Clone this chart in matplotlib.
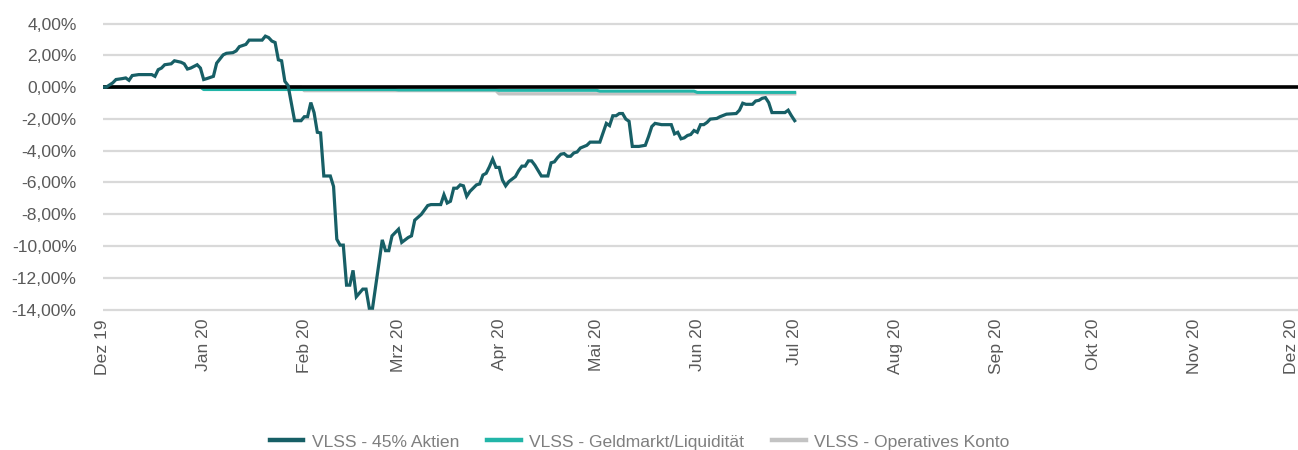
import numpy as np
import matplotlib
matplotlib.use("Agg")
import matplotlib.pyplot as plt
import matplotlib.dates as mdates
from matplotlib.ticker import FuncFormatter, FixedLocator

plt.rcParams["font.family"] = ["Liberation Sans", "DejaVu Sans"]

# ─────────────────────────────────────────────
# DATA  (days since 2019-12-01, performance in %)
# ─────────────────────────────────────────────
START = np.datetime64("2019-12-01")

aktien_days = [
    0, 1, 3, 4, 6, 7, 8, 9, 11, 15, 16, 17, 18, 19, 21, 22, 24, 25, 26, 27,
    29, 30, 31, 32, 34, 35, 37, 38, 40, 41, 42, 44, 45, 49, 50, 51, 52, 53,
    54, 55, 56, 57, 59, 61, 62, 63, 64, 65, 66, 67, 68, 70, 71, 72, 73, 74,
    75, 76, 77, 78, 80, 81, 82, 83, 86, 87, 88, 89, 91, 92, 94, 95, 96, 98,
    100, 101, 104, 105, 106, 107, 108, 109, 110, 111, 112, 113, 115, 116,
    117, 118, 119, 120, 121, 122, 123, 124, 125, 127, 128, 129, 130, 131,
    132, 133, 135, 137, 138, 139, 140, 141, 142, 143, 144, 145, 146, 147,
    149, 150, 153, 155, 156, 157, 158, 159, 160, 161, 162, 163, 165, 167,
    168, 169, 170, 172, 175, 176, 177, 178, 179, 180, 181, 182, 183, 184,
    185, 186, 187, 189, 190, 192, 195, 196, 197, 198, 200, 201, 202, 203,
    204, 205, 206, 210, 211, 212, 213,
]
aktien_vals = [
    0.00, 0.00, 0.27, 0.48, 0.54, 0.58, 0.43, 0.73, 0.79, 0.79, 0.68, 1.10,
    1.20, 1.41, 1.47, 1.66, 1.57, 1.47, 1.14, 1.20, 1.41, 1.20, 0.48, 0.54,
    0.68, 1.51, 2.03, 2.13, 2.17, 2.28, 2.55, 2.69, 2.96, 2.96, 3.21, 3.12,
    2.90, 2.81, 1.72, 1.66, 0.37, 0.10, -2.11, -2.11, -1.86, -1.86, -0.97,
    -1.60, -2.84, -2.88, -5.59, -5.59, -6.25, -9.57, -9.94, -9.94, -12.46,
    -12.46, -11.53, -13.19, -12.71, -12.71, -13.91, -13.91, -9.61, -10.29,
    -10.29, -9.36, -8.94, -9.77, -9.46, -9.36, -8.37, -8.01, -7.45, -7.39,
    -7.39, -6.77, -7.29, -7.18, -6.36, -6.36, -6.15, -6.21, -6.87, -6.56,
    -6.15, -6.09, -5.53, -5.42, -5.01, -4.53, -5.05, -5.05, -5.84, -6.21,
    -5.94, -5.63, -5.26, -4.97, -4.97, -4.64, -4.64, -4.91, -5.59, -5.59,
    -4.76, -4.70, -4.43, -4.22, -4.18, -4.35, -4.35, -4.14, -4.08, -3.83,
    -3.66, -3.46, -3.46, -2.28, -2.42, -1.80, -1.80, -1.66, -1.66, -2.01,
    -2.15, -3.73, -3.73, -3.66, -3.11, -2.48, -2.28, -2.36, -2.36, -2.94,
    -2.84, -3.25, -3.19, -3.04, -2.98, -2.73, -2.84, -2.36, -2.36, -2.22,
    -2.01, -1.97, -1.86, -1.70, -1.66, -1.45, -1.01, -1.08, -1.08, -0.87,
    -0.83, -0.70, -0.66, -0.97, -1.60, -1.60, -1.45, -1.80, -2.11,
]

geld_days = [0, 30, 31, 90, 91, 121, 122, 152, 153, 182, 183, 213]
geld_vals = [0.00, 0.00, -0.15, -0.15, -0.17, -0.17, -0.20, -0.20, -0.25, -0.25, -0.33, -0.33]

konto_days = [0, 61, 62, 121, 122, 213]
konto_vals = [0.00, 0.00, -0.22, -0.22, -0.42, -0.42]

month_labels = ["Dez 19", "Jan 20", "Feb 20", "Mrz 20", "Apr 20", "Mai 20", "Jun 20",
                "Jul 20", "Aug 20", "Sep 20", "Okt 20", "Nov 20", "Dez 20"]
month_starts = ["2019-12-01", "2020-01-01", "2020-02-01", "2020-03-01", "2020-04-01",
                "2020-05-01", "2020-06-01", "2020-07-01", "2020-08-01", "2020-09-01",
                "2020-10-01", "2020-11-01", "2020-12-01"]

y_ticks = [4, 2, 0, -2, -4, -6, -8, -10, -12, -14]

# ─────────────────────────────────────────────
# COLOURS
# ─────────────────────────────────────────────
C_AKTIEN = "#175f66"
C_GELD   = "#22b5a8"
C_KONTO  = "#c3c3c3"
C_GRID   = "#d9d9d9"
C_TEXT   = "#595959"


def to_dates(days):
    return START + np.array(days, dtype="timedelta64[D]")


fig = plt.figure(figsize=(12.98, 4.5), dpi=100)
ax = fig.add_axes([103 / 1298, 1 - 312 / 450, 1 - 103 / 1298, 290 / 450])

# gridlines
for v in y_ticks:
    if v != 0:
        ax.axhline(v, color=C_GRID, lw=1.6, zorder=0.5)

ax.plot(to_dates(konto_days), konto_vals, color=C_KONTO, lw=2.4, zorder=1.5,
        label="VLSS - Operatives Konto")
ax.plot(to_dates(geld_days), geld_vals, color=C_GELD, lw=2.2, zorder=1.6,
        label="VLSS - Geldmarkt/Liquidität")
ax.axhline(0, color="black", lw=2.6, zorder=2)
ax.plot(to_dates(aktien_days), aktien_vals, color=C_AKTIEN, lw=2.3, zorder=3,
        label="VLSS - 45% Aktien", solid_joinstyle="miter")

ax.set_xlim(START, START + np.timedelta64(368, "D"))
ax.set_ylim(-14.15, 4.1)

ax.xaxis.set_major_locator(FixedLocator(mdates.date2num(np.array(month_starts, dtype="datetime64[D]"))))
ax.set_xticklabels(month_labels, rotation=90)
ax.yaxis.set_major_locator(FixedLocator(y_ticks))
ax.yaxis.set_major_formatter(FuncFormatter(lambda v, _: f"{v:.2f}".replace(".", ",") + "%"))

ax.tick_params(axis="both", length=0, labelsize=12.6, labelcolor=C_TEXT)
ax.tick_params(axis="y", pad=19)
ax.tick_params(axis="x", pad=5)
for s in ax.spines.values():
    s.set_visible(False)

handles, labels = ax.get_legend_handles_labels()
order = [2, 1, 0]
leg = fig.legend([handles[i] for i in order], [labels[i] for i in order],
                 loc="center", bbox_to_anchor=(0.493, 0.018), ncol=3, frameon=False,
                 fontsize=12.6, handlelength=1.9, handletextpad=0.5, columnspacing=1.6)
for t in leg.get_texts():
    t.set_color("#7f7f7f")
for h in leg.get_lines():
    h.set_linewidth(3.2)

fig.savefig("out.png", dpi=100)
